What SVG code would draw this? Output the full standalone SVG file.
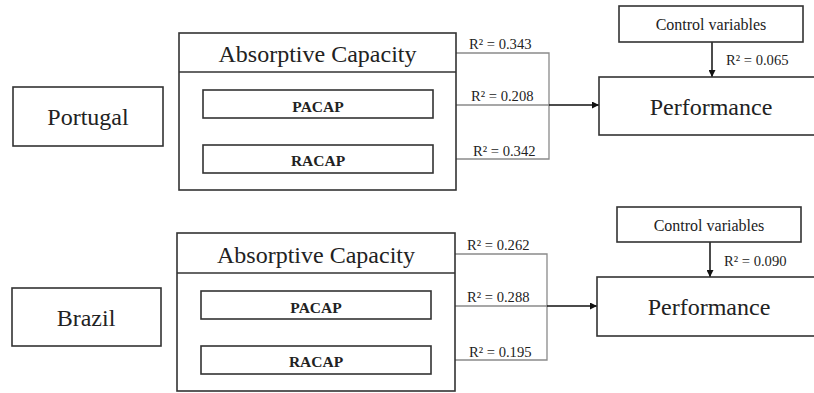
<svg xmlns="http://www.w3.org/2000/svg" width="814" height="393" viewBox="0 0 814 393">
<defs>
<style>
.box{fill:#fff;stroke:#333;stroke-width:1.6}
.t{font-family:'Liberation Serif','DejaVu Serif',serif;fill:#222}
.big{font-size:24px;text-anchor:middle}
.bold{font-size:15.5px;font-weight:bold;text-anchor:middle}
.ctl{font-size:16px;text-anchor:middle}
.lab{font-size:14.6px}
.g{fill:none;stroke:#8a8a8a;stroke-width:1.3}
.k{fill:none;stroke:#111;stroke-width:1.5}
</style>
<marker id="ah" viewBox="0 0 10 10" refX="10" refY="5" markerWidth="7" markerHeight="7" markerUnits="userSpaceOnUse" orient="auto">
<path d="M0,0 L10,5 L0,10 Z" fill="#111"/>
</marker>
</defs>
<rect width="814" height="393" fill="#fff"/>

<g id="connectors">
<path class="g" d="M456,53 H549 V159 H433"/>
<path class="g" d="M433,105 H549"/>
<path class="k" d="M549,105 H599" marker-end="url(#ah)"/>
<path class="k" d="M712,42 V77" marker-end="url(#ah)"/>
<path class="g" d="M455,254 H547 V360 H431"/>
<path class="g" d="M431,306 H547"/>
<path class="k" d="M547,306 H597" marker-end="url(#ah)"/>
<path class="k" d="M710,242 V277" marker-end="url(#ah)"/>
</g>

<g id="labels">
<text class="t lab" x="469" y="49">R² = 0.343</text>
<text class="t lab" x="471" y="101">R² = 0.208</text>
<text class="t lab" x="473" y="156">R² = 0.342</text>
<text class="t lab" x="726" y="65">R² = 0.065</text>
<text class="t lab" x="467" y="250">R² = 0.262</text>
<text class="t lab" x="467" y="302">R² = 0.288</text>
<text class="t lab" x="469" y="357">R² = 0.195</text>
<text class="t lab" x="724" y="266">R² = 0.090</text>
</g>

<g id="portugal">
<rect class="box" x="13" y="87" width="150" height="59"/>
<text class="t big" x="88" y="125">Portugal</text>
</g>

<g id="ac-portugal">
<rect class="box" x="179" y="33" width="277" height="157"/>
<line x1="179" y1="72" x2="456" y2="72" stroke="#333" stroke-width="1.6"/>
<text class="t big" x="317.5" y="62">Absorptive Capacity</text>
</g>
<g id="pacap-portugal">
<rect class="box" x="203" y="90" width="230" height="28"/>
<text class="t bold" x="318" y="112">PACAP</text>
</g>
<g id="racap-portugal">
<rect class="box" x="203" y="145" width="230" height="28"/>
<text class="t bold" x="318" y="166">RACAP</text>
</g>
<g id="perf-portugal">
<rect class="box" x="599" y="77" width="218" height="58"/>
<text class="t big" x="711" y="115">Performance</text>
</g>
<g id="ctrl-portugal">
<rect class="box" x="619" y="6" width="184" height="36"/>
<text class="t ctl" x="711" y="30">Control variables</text>
</g>

<g id="brazil">
<rect class="box" x="12" y="288" width="149" height="58"/>
<text class="t big" x="86" y="326">Brazil</text>
</g>
<g id="ac-brazil">
<rect class="box" x="177" y="233" width="278" height="158"/>
<line x1="177" y1="273" x2="455" y2="273" stroke="#333" stroke-width="1.6"/>
<text class="t big" x="316" y="263">Absorptive Capacity</text>
</g>
<g id="pacap-brazil">
<rect class="box" x="201" y="291" width="230" height="28"/>
<text class="t bold" x="316" y="313">PACAP</text>
</g>
<g id="racap-brazil">
<rect class="box" x="201" y="346" width="230" height="28"/>
<text class="t bold" x="316" y="367">RACAP</text>
</g>
<g id="perf-brazil">
<rect class="box" x="597" y="277" width="220" height="59"/>
<text class="t big" x="709" y="315">Performance</text>
</g>
<g id="ctrl-brazil">
<rect class="box" x="617" y="207" width="184" height="35"/>
<text class="t ctl" x="709" y="231">Control variables</text>
</g>
</svg>
